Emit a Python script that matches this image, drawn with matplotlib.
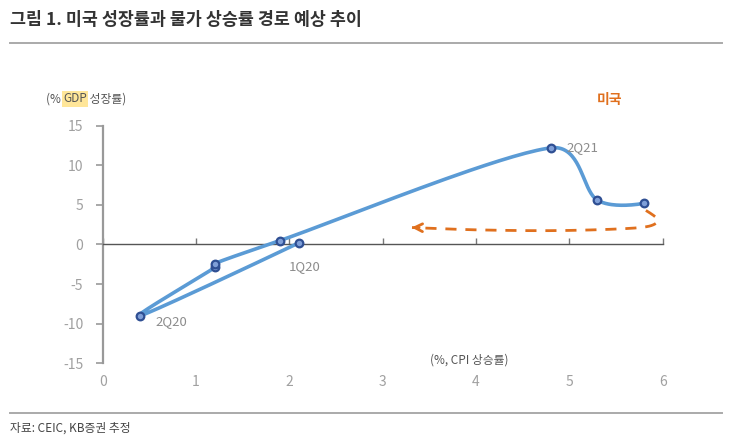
import numpy as np
import matplotlib
matplotlib.use('Agg')
import matplotlib.pyplot as plt
from matplotlib.lines import Line2D

plt.rcParams['font.family'] = ['Noto Sans CJK KR', 'DejaVu Sans']
plt.rcParams['axes.unicode_minus'] = False

# data: US CPI (x) vs GDP growth (y), 1Q20 ~ 4Q21
quarters = ['1Q20', '2Q20', '3Q20', '4Q20', '1Q21', '2Q21', '3Q21', '4Q21']
cpi = [2.1, 0.4, 1.2, 1.2, 1.9, 4.8, 5.3, 5.8]
gdp = [0.2, -9.0, -2.9, -2.4, 0.5, 12.2, 5.6, 5.2]
labeled = ['1Q20', '2Q20', '2Q21']

# expected path (dashed arrow)
path_x = [5.82, 5.95, 5.85, 5.5, 4.8, 4.0, 3.3]
path_y = [4.3, 3.1, 2.3, 1.95, 1.75, 1.85, 2.15]

x_ticks = [0, 1, 2, 3, 4, 5, 6]
y_ticks = [-15, -10, -5, 0, 5, 10, 15]

YS = 7.91 / 93.3  # y unit relative to x unit on screen


def smooth(xs, ys, n=40, cap=0.45):
    # bezier through points, handles = (next - prev)/6, capped by segment length (excel-like)
    p = np.column_stack([xs, np.array(ys) * YS]).astype(float)
    m = len(p)
    cin = p.copy()
    cout = p.copy()
    for i in range(1, m - 1):
        d0 = np.hypot(*(p[i] - p[i - 1]))
        d1 = np.hypot(*(p[i + 1] - p[i]))
        h = (p[i + 1] - p[i - 1]) / 6
        hl = np.hypot(*h)
        cin[i] = p[i] - h * min(1, cap * d0 / hl)
        cout[i] = p[i] + h * min(1, cap * d1 / hl)
    s = np.linspace(0, 1, n)[:, None]
    out = []
    for i in range(m - 1):
        a, b, c, d = p[i], cout[i], cin[i + 1], p[i + 1]
        out.append((1 - s)**3 * a + 3 * (1 - s)**2 * s * b + 3 * (1 - s) * s**2 * c + s**3 * d)
    out = np.vstack(out)
    return out[:, 0], out[:, 1] / YS


fig = plt.figure(figsize=(7.3, 4.46), dpi=100)
ax = fig.add_axes([0.1408, 0.1854, 0.767, 0.5328])

blue = '#5B9BD5'
orange = '#E0701E'
gray = '#999999'

sx, sy = smooth(cpi, gdp)
ax.plot(sx, sy, color=blue, lw=2.6, solid_capstyle='round', zorder=3)
ax.plot(cpi, gdp, 'o', ms=5.5, mfc='#7F9FD8', mec='#2F4F93', mew=1.6, zorder=4)

for q, x, y in zip(quarters, cpi, gdp):
    if q not in labeled:
        continue
    if q == '1Q20':
        ax.annotate(q, (x, y), xytext=(4, -17), textcoords='offset points',
                    ha='center', va='center', color='#8c8c8c', fontsize=9.5)
    else:
        ax.annotate(q, (x, y), xytext=(11, -4 if q == '2Q20' else 0), textcoords='offset points',
                    ha='left', va='center', color='#8c8c8c', fontsize=9.5)

px, py = smooth(path_x, path_y)
ax.plot(px[:-4], py[:-4], color=orange, lw=2, dashes=(4, 3.2), zorder=2)
ax.annotate('', xy=(px[-1] - 0.02, py[-1]), xytext=(px[-1] + 0.12, py[-1] - 0.03),
            arrowprops=dict(arrowstyle='->', color=orange, lw=2, mutation_scale=14))

ax.set_xlim(0, 6)
ax.set_ylim(-15, 15)
for s in ['top', 'right']:
    ax.spines[s].set_visible(False)
ax.spines['left'].set_position(('data', 0))
ax.spines['left'].set_color(gray)
ax.spines['left'].set_linewidth(1.6)
ax.spines['bottom'].set_position(('data', 0))
ax.spines['bottom'].set_color('#555555')
ax.spines['bottom'].set_linewidth(1.0)

ax.set_yticks(y_ticks)
ax.tick_params(axis='y', direction='out', length=5, width=1.2, color=gray,
               labelcolor='#a0a0a0', labelsize=10, pad=9)
ax.set_xticks(x_ticks)
ax.tick_params(axis='x', direction='in', length=4, width=1, color='#777777', labelbottom=False)
for x in x_ticks:
    ax.text(x, -17.4, str(x), ha='center', va='center', color='#a0a0a0', fontsize=10)

ax.text(3.93, -14.6, '(%, CPI 상승률)', ha='center', va='center', color='#555555', fontsize=8.5)

# y axis caption with highlighted GDP
t1 = fig.text(46 / 730, 1 - 99 / 446, '(% ', ha='left', va='center', color='#555555', fontsize=8.5)
t2 = ax.annotate('GDP', xy=(1, 0), xycoords=t1, va='bottom', ha='left', color='#555555', fontsize=8.5,
                 bbox=dict(boxstyle='square,pad=0.1', fc='#FFE699', ec='none'))
ax.annotate(' 성장률)', xy=(1, 0), xycoords=t2, va='bottom', ha='left', color='#555555', fontsize=8.5)

fig.text(610 / 730, 1 - 100 / 446, '미국', ha='center', va='center', color=orange,
         fontsize=10, fontweight='bold')

# title, rules, source
fig.text(10 / 730, 1 - 20 / 446, '그림 1. 미국 성장률과 물가 상승률 경로 예상 추이', ha='left', va='center',
         color='#333333', fontsize=12.5, fontweight='bold')
fig.add_artist(Line2D([10 / 730, 722 / 730], [1 - 43 / 446] * 2, color='#aaaaaa', lw=1.4))
fig.add_artist(Line2D([10 / 730, 722 / 730], [1 - 413 / 446] * 2, color='#aaaaaa', lw=1.4))
fig.text(10 / 730, 1 - 428 / 446, '자료: CEIC, KB증권 추정', ha='left', va='center',
         color='#444444', fontsize=8.5)

fig.savefig('out.png', dpi=100)
